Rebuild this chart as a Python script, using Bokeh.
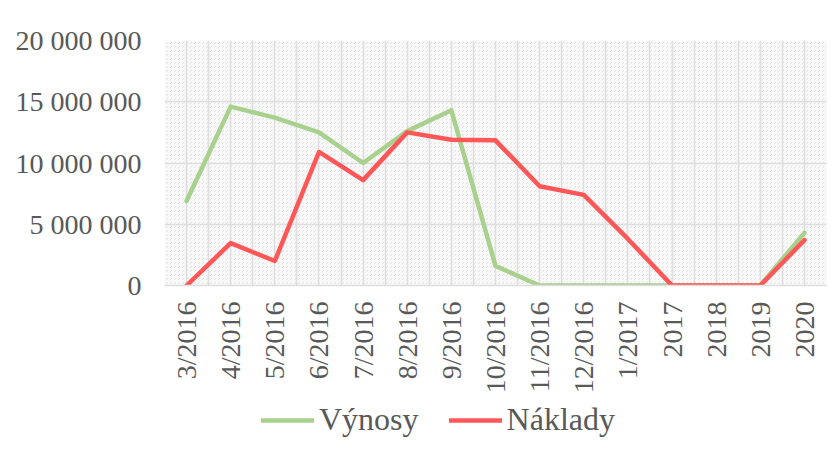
from bokeh.plotting import figure
from bokeh.layouts import column
from bokeh.models import (FixedTicker, Legend, LegendItem, BoxAnnotation, Range1d, ColumnDataSource)
from bokeh.embed import file_html
from bokeh.resources import INLINE
import math

categories = ["3/2016", "4/2016", "5/2016", "6/2016", "7/2016", "8/2016", "9/2016",
              "10/2016", "11/2016", "12/2016", "1/2017", "2017", "2018", "2019", "2020"]
vynosy = [6900000, 14600000, 13700000, 12500000, 10000000, 12600000, 14300000,
          1600000, 0, 0, 0, 0, 0, 0, 4300000]
naklady = [0, 3460000, 2000000, 10900000, 8600000, 12500000, 11900000,
           11850000, 8100000, 7400000, 3800000, 0, 0, 0, 3700000]
series_names = ["Výnosy", "Náklady"]
y_ticks = [0, 5000000, 10000000, 15000000, 20000000]
y_labels = ["0", "5 000 000", "10 000 000", "15 000 000", "20 000 000"]

n = len(categories)
xs = list(range(n))
src = ColumnDataSource(dict(x=xs, vynosy=vynosy, naklady=naklady))

FONT = "Liberation Serif"
TXT = "#595959"
GRID = "#dedede"
GREEN = "#a9d18e"
RED = "#ff5757"

p = figure(width=834, height=400, output_backend="svg", toolbar_location=None,
           x_range=Range1d(-0.5, n - 0.5), y_range=Range1d(0, y_ticks[-1]),
           min_border_left=164, min_border_right=8, min_border_top=40,
           min_border_bottom=115)
p.outline_line_color = None
p.background_fill_color = "#f8f8f8"

bg = BoxAnnotation(fill_color="#f8f8f8", fill_alpha=0, hatch_pattern="right_diagonal_dash",
                   hatch_color="#d4d4d4", hatch_alpha=0.6, hatch_scale=4, hatch_weight=1,
                   line_color=None, level="image")
p.add_layout(bg)

g = p.line("x", "vynosy", source=src, line_color=GREEN, line_width=4.5,
           line_join="round", line_cap="round")
r = p.line("x", "naklady", source=src, line_color=RED, line_width=4.5,
           line_join="round", line_cap="round")

# x axis
p.xaxis.ticker = FixedTicker(ticks=xs)
p.xaxis.major_label_overrides = {i: c for i, c in enumerate(categories)}
p.xaxis.major_label_orientation = math.pi / 2
p.xaxis.major_tick_line_color = None
p.xaxis.minor_tick_line_color = None
p.xaxis.axis_line_color = GRID
p.xaxis.axis_line_width = 1.5
p.xaxis.major_label_standoff = 10
p.xaxis.major_label_text_font = FONT
p.xaxis.major_label_text_font_size = "28px"
p.xaxis.major_label_text_color = TXT

# y axis
p.yaxis.ticker = FixedTicker(ticks=y_ticks)
p.yaxis.major_label_overrides = {t: l for t, l in zip(y_ticks, y_labels)}
p.yaxis.major_tick_line_color = None
p.yaxis.minor_tick_line_color = None
p.yaxis.axis_line_color = None
p.yaxis.major_label_standoff = 17
p.yaxis.major_label_text_font = FONT
p.yaxis.major_label_text_font_size = "28px"
p.yaxis.major_label_text_color = TXT

# grids
p.xgrid.ticker = FixedTicker(ticks=[i * 0.5 - 0.5 for i in range(2 * n + 1)])
p.xgrid.grid_line_color = GRID
p.xgrid.grid_line_width = 1.5
p.ygrid.ticker = FixedTicker(ticks=y_ticks)
p.ygrid.grid_line_color = GRID
p.ygrid.grid_line_width = 1.5

# legend strip below the chart (series drawn out of view; only legend shows)
pl = figure(width=834, height=58, output_backend="svg", toolbar_location=None,
            x_range=Range1d(0, 1), y_range=Range1d(-2, -1),
            min_border=0, outline_line_color=None)
pl.axis.visible = False
pl.grid.visible = False
lg = pl.line("x", "vynosy", source=src, line_color=GREEN, line_width=4.5, line_cap="round")
lr = pl.line("x", "naklady", source=src, line_color=RED, line_width=4.5, line_cap="round")
legend = Legend(items=[LegendItem(label=series_names[0], renderers=[lg]),
                       LegendItem(label=series_names[1], renderers=[lr])],
                orientation="horizontal", location=(97, 20),
                label_text_font=FONT, label_text_font_size="32px",
                label_text_color=TXT, glyph_width=53, glyph_height=30,
                label_standoff=5, spacing=30, padding=0, margin=0,
                border_line_alpha=0, background_fill_alpha=0)
pl.add_layout(legend)

layout = column(p, pl, spacing=0)
open("out.html", "w").write(file_html(layout, INLINE))
